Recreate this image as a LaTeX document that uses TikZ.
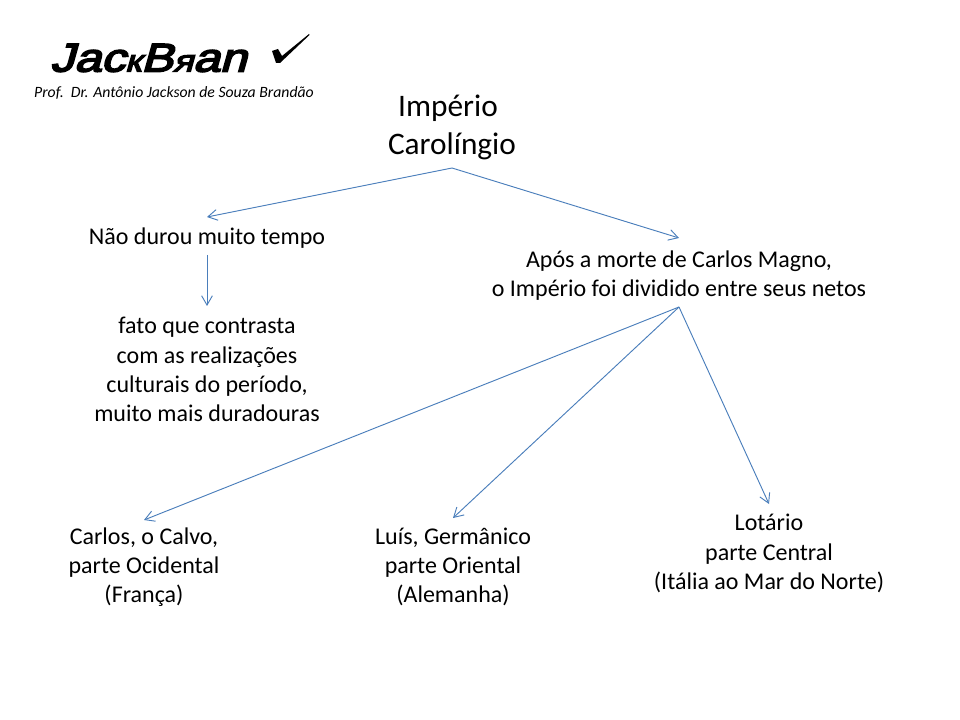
\documentclass[tikz,border=0pt]{standalone}
\usepackage{fontspec}
\setmainfont{Carlito}
\newfontfamily\logofont[FakeBold=4]{Liberation Sans}
\usetikzlibrary{arrows.meta}

\definecolor{linhaazul}{HTML}{4A7EBB}
\newcommand{\folga}[1]{\rule{0pt}{#1}}
\tikzset{
  texto/.style={anchor=north,align=center,font=\fontsize{18}{21.9}\selectfont,inner sep=0pt,outer sep=0pt},
  seta/.style={draw=linhaazul,line width=0.7pt,-{Straight Barb[length=7pt,width=9pt,angle'=60]}},
  marca/.style={anchor=center,inner sep=0pt,font=\logofont\fontsize{30}{32}\selectfont,transform shape,xslant=0.28,xscale=1.2}
}

\begin{document}
\begin{tikzpicture}[x=0.75pt,y=-0.75pt]
\useasboundingbox (0,0) rectangle (960,720);

\node[marca] (logo) at (152,58) {Jac{\fontsize{23}{24}\selectfont к}B{\fontsize{23}{24}\selectfont я}an};
\fill (272,51) -- (278,49) -- (282,56) -- (309,34) -- (309.5,35) -- (280,63) -- (276,63) -- cycle;
\node[anchor=center,inner sep=0pt,font=\itshape\fontsize{11.8}{13}\selectfont] (prof) at (174,93) {Prof.\ \ Dr. Antônio Jackson de Souza Brandão};

\node[texto,font=\fontsize{23.5}{28.5}\selectfont,minimum height=82*0.75pt] (imperio) at (452,86) {Império\kern6pt\\Carolíngio};

\node[texto,minimum height=38*0.75pt] (naodurou) at (207,217) {\folga{15.5pt}Não durou muito tempo};
\node[texto,minimum height=127*0.75pt] (fato) at (207,306) {fato que contrasta\\com as realizações\\culturais do período,\\muito mais duradouras};

\node[texto,minimum height=69*0.75pt] (apos) at (679,238) {\folga{17.5pt}Após a morte de Carlos Magno,\\o Império foi dividido entre seus netos};

\node[texto,minimum height=94*0.75pt] (carlos) at (144,520) {Carlos, o Calvo,\\parte Ocidental\\(França)};
\node[texto,minimum height=98*0.75pt] (luis) at (453,518) {Luís, Germânico\\parte Oriental\\(Alemanha)};
\node[texto,minimum height=99*0.75pt] (lotario) at (769,504) {Lotário\\parte Central\\(Itália ao Mar do Norte)};

\draw[seta] (imperio.south) -- (naodurou.north);
\draw[seta] (imperio.south) -- (apos.north);
\draw[seta] (naodurou.south) -- (fato.north);
\draw[seta] (apos.south) -- (carlos.north);
\draw[seta] (apos.south) -- (luis.north);
\draw[seta] (apos.south) -- (lotario.north);
\end{tikzpicture}
\end{document}
